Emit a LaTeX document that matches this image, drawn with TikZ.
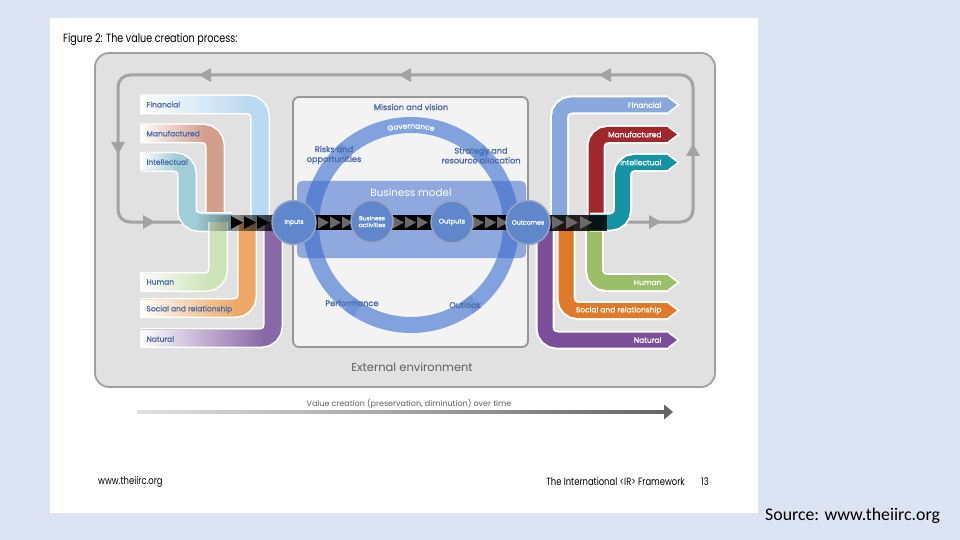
\documentclass[tikz,border=0pt]{standalone}
\usepackage{fontspec}
\setmainfont{Poppins}
\newfontfamily\fcond[FakeStretch=0.8]{Poppins}
\newfontfamily\fsemi[FakeBold=1.2]{Poppins}
\newfontfamily\carl{Carlito}
\usetikzlibrary{fadings,decorations.text}
\tikzfading[name=fadeinright, left color=transparent!100, right color=transparent!0]
\tikzfading[name=fadeoutright, left color=transparent!0, right color=transparent!100]
\definecolor{pagebg}{RGB}{220,227,242}
\definecolor{outerfill}{RGB}{225,225,225}
\definecolor{outerline}{RGB}{160,160,160}
\definecolor{innerfill}{RGB}{243,243,243}
\definecolor{innerline}{RGB}{150,150,150}
\definecolor{loopgray}{RGB}{163,163,163}
\definecolor{lblue}{RGB}{72,106,168}
\definecolor{ringblue}{RGB}{110,148,218}
\definecolor{bandblue}{RGB}{62,107,204}
\definecolor{circblue}{RGB}{96,135,204}
\definecolor{circline}{RGB}{150,165,195}
\definecolor{trigray}{RGB}{105,105,105}
\definecolor{lfin}{RGB}{185,218,242}
\definecolor{lman}{RGB}{212,158,140}
\definecolor{lint}{RGB}{160,205,215}
\definecolor{lhum}{RGB}{205,228,185}
\definecolor{lsoc}{RGB}{236,168,100}
\definecolor{lnat}{RGB}{137,104,168}
\definecolor{rfin}{RGB}{136,168,220}
\definecolor{rman}{RGB}{160,40,45}
\definecolor{rint}{RGB}{20,148,165}
\definecolor{rhum}{RGB}{155,190,104}
\definecolor{rsoc}{RGB}{224,122,40}
\definecolor{rnat}{RGB}{122,78,152}
\definecolor{textgray}{RGB}{95,95,95}
\begin{document}
\begin{tikzpicture}[x=1pt,y=-1pt,
  loopline/.style={draw=loopgray, line width=3pt, rounded corners=12pt},
  looptri/.style={fill=loopgray},
  lcapw/.style={draw=white, line width=20pt, rounded corners=12pt},
  lcap/.style={line width=17pt, rounded corners=12pt},
  rcapw/.style={draw=white, line width=19pt, rounded corners=12pt},
  rcap/.style={line width=15pt, rounded corners=12pt},
  fadeover/.style={fill=white, path fading=fadeoutright},
  ringseg/.style={draw=ringblue, line width=16pt, draw opacity=0.85},
  darkstrip/.style={fill=black},
  ctri/.style={fill=trigray},
  ltri/.style={fill=black},
  circ/.style={circle, fill=circblue, draw=circline, line width=1.5pt, inner sep=0pt, text=white, font=\fsemi\fontsize{6.2}{7}\selectfont, align=center},
  llabel/.style={anchor=west, text=lblue, font=\fsemi\fontsize{7.5}{8.5}\selectfont},
  rlabel/.style={anchor=east, text=white, font=\fsemi\fontsize{7.5}{8.5}\selectfont},
  clabel/.style={text=lblue, font=\fsemi\fontsize{8.2}{9.8}\selectfont, align=center, inner sep=0pt},
  foot/.style={font=\fcond\fontsize{10.5}{12}\selectfont, inner sep=0pt}
]
\useasboundingbox (0,0) rectangle (960,540);
% page
\fill[pagebg] (0,0) rectangle (960,540);
\fill[white] (50,18) rectangle (758,513);
\node[inner sep=0pt, anchor=west, font=\fcond\fontsize{12}{13.5}\selectfont] (title) at (63,40) {Figure 2: The value creation process:};
% outer box
\draw[draw=outerline, fill=outerfill, line width=1.8pt, rounded corners=14pt] (95,53) rectangle (715,387);
% loop
\draw[loopline] (205,222) -- (118,222) -- (118,75) -- (693,75) -- (693,222) -- (612,222);
\fill[looptri] (199,75) -- (211,68) -- (211,82) -- cycle;
\fill[looptri] (399,75) -- (411,68) -- (411,82) -- cycle;
\fill[looptri] (599,75) -- (611,68) -- (611,82) -- cycle;
\fill[looptri] (118,154) -- (111,142) -- (125,142) -- cycle;
\fill[looptri] (155,222) -- (143,215) -- (143,229) -- cycle;
\fill[looptri] (693,144) -- (686,156) -- (700,156) -- cycle;
\fill[looptri] (661,222) -- (649,215) -- (649,229) -- cycle;
% inner box
\draw[draw=innerline, fill=innerfill, line width=1.8pt, rounded corners=6pt] (293,97) rectangle (528,347);
% ring (overlapping segments)
\draw[ringseg] (411,225) ++(225:100) arc[start angle=225, end angle=318, radius=100];
\draw[ringseg] (411,225) ++(-48:100) arc[start angle=-48, end angle=55, radius=100];
\draw[ringseg] (411,225) ++(50:100) arc[start angle=50, end angle=128, radius=100];
\draw[ringseg] (411,225) ++(122:100) arc[start angle=122, end angle=230, radius=100];
\path[decorate, decoration={text along path, text align=center, text={|\fsemi\fontsize{7.5}{8}\selectfont\color{white}|Governance}}]
  (411,225) ++(235:96.5) arc[start angle=235, end angle=305, radius=96.5];
% business model band
\fill[bandblue, opacity=0.55, rounded corners=5pt] (297,181) rectangle (526,258);
\node[text=white, font=\fontsize{10.4}{12}\selectfont] (bm) at (411,193) {Business model};
% left capitals
\draw[lcapw] (140,104.5) -- (260,104.5) -- (260,222);
\draw[lcap, draw=lfin] (140,104.5) -- (260,104.5) -- (260,222);
\fill[fadeover] (140,96) rectangle (250,113);
\draw[lcapw] (140,133.5) -- (215,133.5) -- (215,222);
\draw[lcap, draw=lman] (140,133.5) -- (215,133.5) -- (215,222);
\fill[fadeover] (140,125) rectangle (205,142);
\draw[lcapw] (140,162) -- (187,162) -- (187,222) -- (232,222);
\draw[lcap, draw=lint] (140,162) -- (187,162) -- (187,222) -- (232,222);
\fill[fadeover] (140,153.5) rectangle (177,170.5);
\draw[lcapw] (140,282) -- (218,282) -- (218,222);
\draw[lcap, draw=lhum] (140,282) -- (218,282) -- (218,222);
\fill[fadeover] (140,273.5) rectangle (208,290.5);
\draw[lcapw] (140,308) -- (247,308) -- (247,222);
\draw[lcap, draw=lsoc] (140,308) -- (247,308) -- (247,222);
\fill[fadeover] (140,299.5) rectangle (237,316.5);
\draw[lcapw] (140,338) -- (273,338) -- (273,222);
\draw[lcap, draw=lnat] (140,338) -- (273,338) -- (273,222);
\fill[fadeover] (140,329.5) rectangle (263,346.5);
\node[llabel] (lfinl) at (143,104.5) {Financial};
\node[llabel] (lmanl) at (143,133.5) {Manufactured};
\node[llabel] (lintl) at (143,162) {Intellectual};
\node[llabel] (lhuml) at (143,282) {Human};
\node[llabel] (lsocl) at (143,309.5) {Social and relationship};
\node[llabel] (lnatl) at (143,339) {Natural};
% left dark band
\fill[black, opacity=0.85, path fading=fadeinright] (196,214.5) rectangle (280,230.5);
\fill[ltri] (231,216) -- (243,222.5) -- (231,229) -- cycle;
\fill[ltri] (244,216) -- (256,222.5) -- (244,229) -- cycle;
\fill[ltri] (257,216) -- (269,222.5) -- (257,229) -- cycle;
% right capitals
\draw[rcapw] (545,222) -- (545,340) -- (668,340);
\fill[white] (666,330) -- (680,340) -- (666,350) -- cycle;
\draw[rcap, draw=rnat] (545,222) -- (545,340) -- (668,340);
\fill[rnat] (667,332.5) -- (677,340) -- (667,347.5) -- cycle;
\draw[rcapw] (566,222) -- (566,310.5) -- (668,310.5);
\fill[white] (666,300.5) -- (680,310.5) -- (666,320.5) -- cycle;
\draw[rcap, draw=rsoc] (566,222) -- (566,310.5) -- (668,310.5);
\fill[rsoc] (667,303) -- (677,310.5) -- (667,318) -- cycle;
\draw[rcapw] (594.5,222) -- (594.5,282.5) -- (668,282.5);
\fill[white] (666,272.5) -- (680,282.5) -- (666,292.5) -- cycle;
\draw[rcap, draw=rhum] (594.5,222) -- (594.5,282.5) -- (668,282.5);
\fill[rhum] (667,275) -- (677,282.5) -- (667,290) -- cycle;
\draw[rcapw] (559.5,222) -- (559.5,105) -- (668,105);
\fill[white] (666,95) -- (680,105) -- (666,115) -- cycle;
\draw[rcap, draw=rfin] (559.5,222) -- (559.5,105) -- (668,105);
\fill[rfin] (667,97.5) -- (677,105) -- (667,112.5) -- cycle;
\draw[rcapw] (596,222) -- (596,134.5) -- (668,134.5);
\fill[white] (666,124.5) -- (680,134.5) -- (666,144.5) -- cycle;
\draw[rcap, draw=rman] (596,222) -- (596,134.5) -- (668,134.5);
\fill[rman] (667,127) -- (677,134.5) -- (667,142) -- cycle;
\draw[rcapw] (590,222) -- (622.5,222) -- (622.5,162.5) -- (668,162.5);
\fill[white] (666,152.5) -- (680,162.5) -- (666,172.5) -- cycle;
\draw[rcap, draw=rint] (590,222) -- (622.5,222) -- (622.5,162.5) -- (668,162.5);
\fill[rint] (667,155) -- (677,162.5) -- (667,170) -- cycle;
\node[rlabel] (rfinl) at (665,105) {Financial};
\node[rlabel] (rmanl) at (665,134.5) {Manufactured};
\node[rlabel] (rintl) at (665,162.5) {Intellectual};
\node[rlabel] (rhuml) at (665,282.5) {Human};
\node[rlabel] (rsocl) at (665,310.5) {Social and relationship};
\node[rlabel] (rnatl) at (665,340) {Natural};
% right dark band
\fill[black, opacity=0.85] (540,214.5) rectangle (607,230.5);
\fill[ctri] (552,216) -- (564,222.5) -- (552,229) -- cycle;
\fill[ctri] (566,216) -- (578,222.5) -- (566,229) -- cycle;
\fill[ctri] (580,216) -- (592,222.5) -- (580,229) -- cycle;
% central strips
\fill[darkstrip] (300,215) rectangle (366,230);
\fill[darkstrip] (380,215) rectangle (445,230);
\fill[darkstrip] (460,215) rectangle (520,230);
\foreach \b in {318,330,342, 393,405,417, 473,485,497}
  \fill[ctri] (\b,216.5) -- (\b+11,222.5) -- (\b,228.5) -- cycle;
% circles
\node[circ, minimum size=44pt] (inputs) at (294,222.5) {Inputs};
\node[circ, minimum size=42pt, font=\fsemi\fontsize{6}{6.8}\selectfont] (activities) at (372,221.5) {Business\\activities};
\node[circ, minimum size=42pt, font=\fsemi\fontsize{6.6}{7.5}\selectfont] (outputs) at (452,222) {Outputs};
\node[circ, minimum size=44pt] (outcomes) at (528,222.5) {Outcomes};
% central labels
\node[clabel] (mission) at (411,107) {Mission and vision};
\node[clabel] (risks) at (334,155) {Risks and\\opportunities};
\node[clabel] (strategy) at (481,155.5) {Strategy and\\resource allocation};
\node[clabel] (performance) at (352,303) {Performance};
\node[clabel] (outlook) at (465,305) {Outlook};
\node[text=textgray, font=\fontsize{11.5}{13}\selectfont] (extenv) at (412,367) {External environment};
% bottom arrow
\node[text=textgray, font=\fontsize{8}{9}\selectfont] (vc) at (409,404) {Value creation (preservation, diminution) over time};
\shade[left color=black!12, right color=black!60] (137,410.5) rectangle (665,413.5);
\fill[black!60] (664,404.5) -- (673,412) -- (664,419.5) -- cycle;
% footer
\node[foot, anchor=west] (www) at (98,482) {www.theiirc.org};
\node[foot, anchor=east] (irf) at (685,482) {The International <IR> Framework};
\node[foot, anchor=east] (pagenum) at (709,482) {13};
\node[anchor=west, inner sep=0pt, font=\carl\fontsize{17.8}{19}\selectfont] (source) at (765,516) {Source: www.theiirc.org};
\end{tikzpicture}
\end{document}
